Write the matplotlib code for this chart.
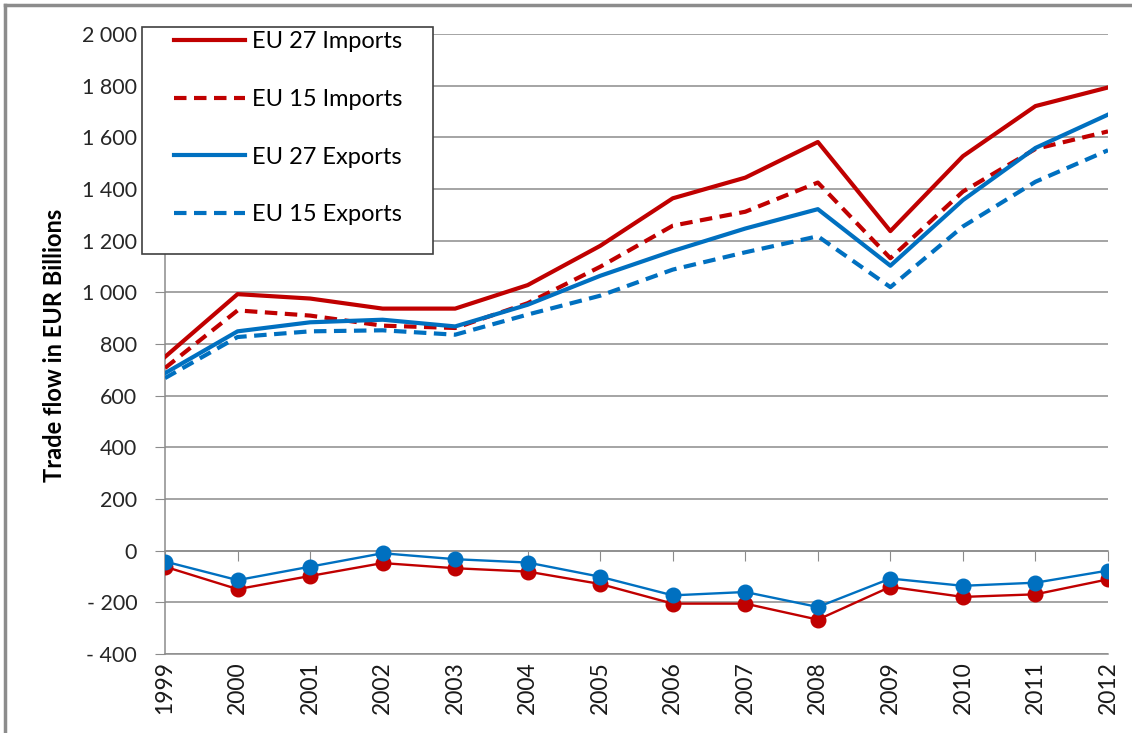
import matplotlib
matplotlib.use('Agg')
import matplotlib.pyplot as plt
from matplotlib.ticker import FuncFormatter
from matplotlib.patches import Rectangle
from matplotlib.lines import Line2D

plt.rcParams['font.family'] = ['Lato', 'DejaVu Sans']

years = [1999, 2000, 2001, 2002, 2003, 2004, 2005, 2006, 2007, 2008, 2009, 2010, 2011, 2012]
eu27_imports = [750, 993, 976, 937, 937, 1028, 1180, 1364, 1444, 1582, 1237, 1527, 1721, 1793]
eu15_imports = [707, 930, 910, 871, 862, 958, 1099, 1258, 1312, 1425, 1132, 1390, 1555, 1623]
eu27_exports = [687, 849, 884, 894, 868, 952, 1064, 1160, 1247, 1322, 1103, 1357, 1559, 1688]
eu15_exports = [668, 827, 849, 853, 836, 914, 987, 1088, 1155, 1217, 1020, 1255, 1428, 1550]
eu27_balance = [-62, -149, -98, -48, -68, -81, -129, -205, -205, -267, -140, -179, -169, -111]
eu15_balance = [-42, -114, -62, -10, -33, -46, -101, -173, -160, -218, -108, -136, -124, -77]

red = '#C00000'
blue = '#0070C0'
grid = '#8C8C8C'
dash = (0, (3, 1.8))

fig = plt.figure(figsize=(11.32, 7.33), dpi=100)
ax = fig.add_axes([165/1132, 1-654/733, 943/1132, 620/733])

ax.plot(years, eu27_imports, color=red, lw=3, label='EU 27 Imports', zorder=3)
ax.plot(years, eu15_imports, color=red, lw=3, ls=dash, label='EU 15 Imports', zorder=3)
ax.plot(years, eu27_exports, color=blue, lw=3, label='EU 27 Exports', zorder=3)
ax.plot(years, eu15_exports, color=blue, lw=3, ls=dash, label='EU 15 Exports', zorder=3)
ax.plot(years, eu27_balance, color=red, lw=1.7, marker='o', ms=10.5, zorder=3)
ax.plot(years, eu15_balance, color=blue, lw=1.7, marker='o', ms=10.5, zorder=3)

ax.set_xlim(1999, 2012)
ax.set_ylim(-400, 2000)
ax.set_yticks(range(-400, 2001, 200))
ax.set_xticks(years)
ax.set_xticklabels([str(y) for y in years], rotation=90, fontsize=16.5)

def fmt(v, pos):
    v = int(v)
    if v < 0:
        return '- ' + str(-v)
    return '{:,}'.format(v).replace(',', ' ')

ax.yaxis.set_major_formatter(FuncFormatter(fmt))
ax.tick_params(axis='y', labelsize=15.5, length=7, color=grid, pad=13, labelcolor='#262626')
ax.tick_params(axis='x', length=0, pad=5, labelcolor='#1a1a1a')
ax.grid(axis='y', color=grid, lw=1.1)
ax.set_axisbelow(True)
for s in ['top', 'right']:
    ax.spines[s].set_visible(False)
for s in ['left', 'bottom']:
    ax.spines[s].set_color(grid)
    ax.spines[s].set_linewidth(1.1)

# category axis crossing at zero
sec = ax.secondary_xaxis(400/2400)
sec.set_xticks(years)
sec.set_xticklabels([])
sec.tick_params(length=7, color=grid, direction='out')
sec.spines['bottom'].set_color(grid)
sec.spines['bottom'].set_linewidth(1.1)

ax.set_ylabel('Trade flow in EUR Billions', fontsize=17, fontweight='bold')
ax.yaxis.set_label_coords((66-165)/943, (654-345)/620)

# legend box
box = Rectangle((142/1132, 1-254/733), (433-142)/1132, (254-27)/733, transform=fig.transFigure,
                facecolor='white', edgecolor='#404040', lw=1.2, zorder=4, clip_on=False)
ax.add_patch(box)
leg = ax.legend(loc='upper left', bbox_to_anchor=(165/1132, 1-22/733), bbox_transform=fig.transFigure,
                frameon=False, fontsize=17, handlelength=3.0, handletextpad=0.3, labelspacing=1.55,
                borderaxespad=0)
leg.set_zorder(5)

# outer chart border
fig.add_artist(Line2D([5/1132, 1], [1-5/733, 1-5/733], color=grid, lw=2.5))
fig.add_artist(Line2D([5/1132, 5/1132], [0, 1-5/733], color=grid, lw=2.5))

fig.savefig('out.png', dpi=100)
